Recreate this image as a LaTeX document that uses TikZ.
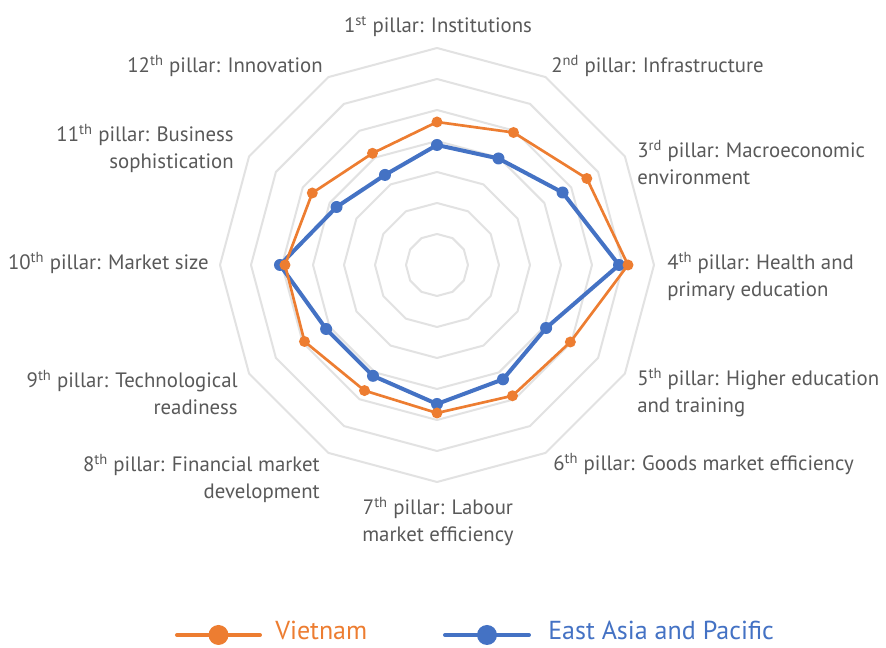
\documentclass[tikz,border=0pt]{standalone}
\usepackage{fontspec}
\setmainfont{PT Sans}
\usetikzlibrary{calc}
\definecolor{vnorange}{HTML}{ED7D31}
\definecolor{eapblue}{HTML}{4472C4}
\definecolor{gridgray}{HTML}{E2E2E2}
\definecolor{labelgray}{HTML}{595959}
\tikzset{
  ring/.style={draw=gridgray, line width=1.5pt, line join=round},
  pillar/.style={text=labelgray, inner sep=0pt, font=\fontsize{15.6}{20.25}\selectfont},
  legendtext/.style={inner sep=0pt, anchor=base west, font=\fontsize{19.5}{24}\selectfont},
  vnline/.style={vnorange, line width=2pt, line join=round},
  eapline/.style={eapblue, line width=3pt, line join=round},
}
\newcommand{\ord}[1]{\textsuperscript{#1}}
\begin{document}
\begin{tikzpicture}[x=0.75pt,y=0.75pt]
  \clip (-437,-383) rectangle (449,265);
  \fill[white] (-437,-383) rectangle (449,265);
  % grid rings
  \foreach \k in {1,...,7}
    \draw[ring] (90:\k*31) \foreach \i in {1,...,11}{ -- ({90-\i*30}:\k*31)} -- cycle;
  % data points
  \foreach \r [count=\i] in {143,153,173,191,154,151,148,145,153,152,144,129}
    \coordinate (vn\i) at ({90-(\i-1)*30}:\r);
  \foreach \r [count=\i] in {120,123,145,182,126,132,139,128,128,157,116,104}
    \coordinate (eap\i) at ({90-(\i-1)*30}:\r);
  % East Asia and Pacific
  \draw[eapline] (eap1) \foreach \i in {2,...,12}{ -- (eap\i)} -- cycle;
  \foreach \i in {1,...,12}
    \fill[eapblue] (eap\i) circle (6);
  % Vietnam
  \draw[vnline] (vn1) \foreach \i in {2,...,12}{ -- (vn\i)} -- cycle;
  \foreach \i in {1,...,12}
    \fill[vnorange] (vn\i) circle (5.5);
  % pillar labels
  \node[pillar] (p1) at (1,238) {1\ord{st} pillar: Institutions};
  \node[pillar, anchor=west] (p2) at (114,199) {2\ord{nd} pillar: Infrastructure};
  \node[pillar, anchor=west, align=left] (p3) at (200,102.5) {3\ord{rd} pillar: Macroeconomic\\environment};
  \node[pillar, anchor=west, align=left] (p4) at (230,-11.5) {4\ord{th} pillar: Health and\\primary education};
  \node[pillar, anchor=west, align=left] (p5) at (200,-127.5) {5\ord{th} pillar: Higher education\\and training};
  \node[pillar, anchor=west] (p6) at (116,-199) {6\ord{th} pillar: Goods market efficiency};
  \node[pillar, align=center] (p7) at (1,-256.5) {7\ord{th} pillar: Labour\\market efficiency};
  \node[pillar, anchor=east, align=right] (p8) at (-117,-213.5) {8\ord{th} pillar: Financial market\\development};
  \node[pillar, anchor=east, align=right] (p9) at (-199,-127.5) {9\ord{th} pillar: Technological\\readiness};
  \node[pillar, anchor=east] (p10) at (-228,2) {10\ord{th} pillar: Market size};
  \node[pillar, anchor=east, align=right] (p11) at (-203,116.5) {11\ord{th} pillar: Business\\sophistication};
  \node[pillar, anchor=east] (p12) at (-114,199) {12\ord{th} pillar: Innovation};
  % legend
  \coordinate (vnA) at (-260,-370);
  \coordinate (vnB) at (-177,-370);
  \coordinate (eapA) at (8,-370);
  \coordinate (eapB) at (92,-370);
  \draw[vnorange, line width=3pt, line cap=round] (vnA) -- (vnB);
  \fill[vnorange] ($(vnA)!0.5!(vnB)$) circle (10);
  \draw[eapblue, line width=3pt, line cap=round] (eapA) -- (eapB);
  \fill[eapblue] ($(eapA)!0.5!(eapB)$) circle (10);
  \node[legendtext, text=vnorange] (vnlabel) at (-162,-375) {Vietnam};
  \node[legendtext, text=eapblue] (eaplabel) at (111,-375) {East Asia and Pacific};
\end{tikzpicture}
\end{document}
